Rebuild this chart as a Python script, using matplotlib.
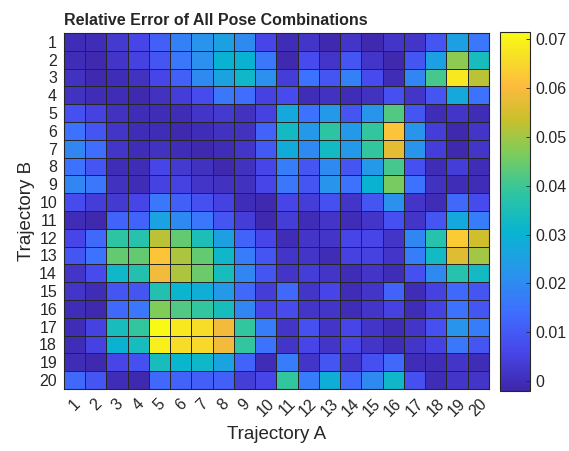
import numpy as np
import matplotlib
matplotlib.use('Agg')
from matplotlib import pyplot as plt
from matplotlib.colors import LinearSegmentedColormap

plt.rcParams['font.family'] = ['Liberation Sans', 'DejaVu Sans']

# parula-like anchors (position, rgb)
parula_pts = [
    (0.000, (0.2422, 0.1504, 0.6603)),
    (0.111, (0.2803, 0.2782, 0.9221)),
    (0.222, (0.2440, 0.4358, 0.9988)),
    (0.333, (0.1540, 0.5902, 0.9218)),
    (0.444, (0.0297, 0.7082, 0.8163)),
    (0.556, (0.1938, 0.7758, 0.6251)),
    (0.667, (0.5044, 0.7993, 0.3480)),
    (0.760, (0.8000, 0.7500, 0.1700)),
    (0.850, (0.9950, 0.7300, 0.2450)),
    (0.920, (0.9700, 0.8600, 0.1600)),
    (1.000, (0.9769, 0.9839, 0.0805)),
]
parula = LinearSegmentedColormap.from_list('parula', parula_pts, N=256)

traj_a = [str(i) for i in range(1, 21)]
traj_b = [str(i) for i in range(1, 21)]

# rows = Trajectory B (1..20), cols = Trajectory A (1..20)
r01 = [0.000, 0.000, 0.003, 0.006, 0.011, 0.018, 0.022, 0.025, 0.020, 0.006, 0.000, 0.002, -0.001, 0.002, -0.001, 0.002, 0.002, 0.009, 0.025, 0.016]
r02 = [0.000, -0.001, 0.002, 0.005, 0.009, 0.016, 0.021, 0.030, 0.030, 0.016, -0.001, 0.007, 0.002, 0.009, 0.002, -0.001, 0.009, 0.025, 0.048, 0.034]
r03 = [0.001, -0.001, 0.000, 0.001, 0.006, 0.011, 0.020, 0.026, 0.032, 0.021, 0.004, 0.015, 0.009, 0.018, 0.007, 0.000, 0.019, 0.041, 0.068, 0.052]
r04 = [0.001, 0.000, 0.000, -0.001, 0.001, 0.004, 0.007, 0.016, 0.014, 0.005, 0.007, 0.000, 0.001, 0.000, 0.001, 0.008, 0.002, 0.009, 0.027, 0.015]
r05 = [0.008, 0.005, 0.001, 0.000, 0.000, 0.000, 0.002, 0.003, 0.001, 0.005, 0.027, 0.015, 0.023, 0.009, 0.022, 0.042, 0.009, 0.000, 0.002, 0.000]
r06 = [0.015, 0.009, 0.002, 0.000, 0.000, -0.001, 0.000, 0.001, 0.001, 0.012, 0.033, 0.023, 0.038, 0.023, 0.039, 0.062, 0.022, 0.004, -0.001, 0.002]
r07 = [0.019, 0.014, 0.002, 0.000, 0.001, 0.000, -0.001, 0.000, 0.002, 0.010, 0.028, 0.020, 0.033, 0.023, 0.039, 0.057, 0.022, 0.004, -0.001, 0.002]
r08 = [0.015, 0.009, 0.000, 0.000, 0.006, 0.003, 0.001, -0.001, 0.001, 0.006, 0.017, 0.009, 0.020, 0.009, 0.023, 0.041, 0.008, 0.000, 0.004, 0.000]
r09 = [0.019, 0.016, 0.001, 0.000, 0.005, 0.005, 0.002, 0.001, 0.001, 0.006, 0.016, 0.009, 0.022, 0.015, 0.030, 0.046, 0.015, 0.001, 0.000, 0.000]
r10 = [0.007, 0.004, 0.003, 0.006, 0.016, 0.011, 0.008, 0.005, 0.000, -0.001, 0.006, 0.004, 0.008, 0.002, 0.009, 0.021, 0.002, 0.000, 0.013, 0.007]
r11 = [0.000, -0.001, 0.012, 0.012, 0.026, 0.020, 0.016, 0.009, 0.004, -0.001, 0.004, 0.000, 0.002, 0.000, 0.002, 0.008, 0.002, 0.009, 0.027, 0.017]
r12 = [0.006, 0.013, 0.038, 0.037, 0.052, 0.044, 0.035, 0.025, 0.012, 0.006, 0.000, 0.002, 0.002, 0.006, 0.006, 0.002, 0.019, 0.037, 0.063, 0.054]
r13 = [0.009, 0.015, 0.044, 0.044, 0.062, 0.051, 0.044, 0.032, 0.017, 0.009, 0.002, 0.002, 0.000, 0.005, 0.005, 0.002, 0.017, 0.033, 0.056, 0.050]
r14 = [0.002, 0.007, 0.032, 0.036, 0.059, 0.051, 0.045, 0.034, 0.019, 0.009, 0.002, 0.004, 0.002, 0.000, 0.002, 0.000, 0.008, 0.020, 0.037, 0.033]
r15 = [0.002, 0.000, 0.009, 0.009, 0.036, 0.031, 0.029, 0.023, 0.013, 0.004, 0.013, 0.002, 0.006, 0.000, 0.002, 0.012, 0.000, 0.005, 0.013, 0.009]
r16 = [0.000, -0.001, 0.013, 0.016, 0.047, 0.042, 0.039, 0.034, 0.019, 0.006, 0.007, 0.002, 0.002, 0.000, 0.002, 0.005, 0.000, 0.005, 0.015, 0.009]
r17 = [0.000, 0.005, 0.034, 0.039, 0.071, 0.068, 0.066, 0.059, 0.039, 0.017, 0.002, 0.008, 0.002, 0.006, 0.002, 0.000, 0.002, 0.008, 0.022, 0.017]
r18 = [0.000, 0.005, 0.030, 0.034, 0.069, 0.066, 0.065, 0.059, 0.039, 0.015, 0.002, 0.006, 0.002, 0.006, 0.002, 0.000, 0.002, 0.005, 0.016, 0.009]
r19 = [0.000, -0.001, 0.006, 0.008, 0.034, 0.031, 0.032, 0.026, 0.012, 0.000, 0.017, 0.002, 0.009, 0.002, 0.008, 0.013, 0.000, 0.000, 0.002, 0.000]
r20 = [0.013, 0.009, 0.000, -0.001, 0.013, 0.012, 0.011, 0.011, 0.004, 0.006, 0.039, 0.017, 0.029, 0.013, 0.020, 0.032, 0.008, 0.000, 0.002, 0.002]

err = np.array([r01, r02, r03, r04, r05, r06, r07, r08, r09, r10,
                r11, r12, r13, r14, r15, r16, r17, r18, r19, r20])

cb_ticks = [0, 0.01, 0.02, 0.03, 0.04, 0.05, 0.06, 0.07]
vmin, vmax = -0.002, 0.0715

fig = plt.figure(figsize=(5.69, 4.51), dpi=100)
ax = fig.add_axes([0.1125, 0.1375, 0.7465, 0.7895])
cax = fig.add_axes([0.879, 0.133, 0.053, 0.797])

mesh = ax.pcolormesh(err, cmap=parula, vmin=vmin, vmax=vmax,
                     edgecolors='#262626', linewidth=0.6)
ax.set_xlim(0, 20)
ax.set_ylim(20, 0)
ax.set_xticks(np.arange(20) + 0.5)
ax.set_xticklabels(traj_a, rotation=45, ha='center', va='top', fontsize=11.5)
ax.set_yticks(np.arange(20) + 0.5)
ax.set_yticklabels(traj_b, fontsize=11.5)
ax.tick_params(length=0, pad=5, colors='#262626')
for s in ax.spines.values():
    s.set_color('#262626')
    s.set_linewidth(0.8)

ax.set_xlabel('Trajectory A', fontsize=13.5, color='#262626', labelpad=5)
ax.set_ylabel('Trajectory B', fontsize=13.5, color='#262626', labelpad=3)
ax.set_title('Relative Error of All Pose Combinations', loc='left',
             fontsize=11.5, fontweight='bold', color='#262626', pad=6)

cb = fig.colorbar(mesh, cax=cax, ticks=cb_ticks)
cb.ax.set_yticklabels(['0', '0.01', '0.02', '0.03', '0.04', '0.05', '0.06', '0.07'])
cb.ax.tick_params(labelsize=11.5, length=3, width=0.6, colors='#262626', direction='in')
cb.outline.set_edgecolor('#262626')
cb.outline.set_linewidth(0.8)

fig.savefig('out.png', dpi=100)
